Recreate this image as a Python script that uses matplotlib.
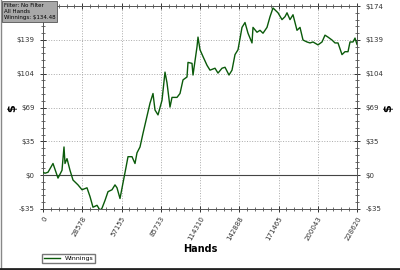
import matplotlib
matplotlib.use("Agg")
import matplotlib.pyplot as plt
from matplotlib.ticker import AutoMinorLocator, FixedLocator
from matplotlib.lines import Line2D

hands = [0, 1456, 3640, 7281, 10921, 13834, 15290, 16018, 17474, 19659, 21843, 25484,
         28396, 32036, 34221, 36405, 39317, 41502, 42958, 45142, 47327, 50239, 52423,
         53880, 56064, 58248, 60432, 61889, 64801, 66985, 68441, 70626, 72810, 77906,
         80091, 81547, 83731, 86644, 88828, 90284, 92469, 93925, 97565, 99750, 101934,
         104846, 105574, 108487, 109215, 112127, 112856, 114310, 116496, 119408, 121593,
         125233, 127417, 130330, 132514, 135427, 137611, 139795, 141980, 144892, 147076,
         149261, 152173, 152901, 155814, 157998, 160182, 163095, 165279, 167464, 168920,
         171104, 174017, 176201, 177657, 179842, 182026, 184938, 187123, 189307, 192220,
         194404, 196588, 200229, 203141, 205325, 207510, 210422, 212606, 214791, 217703,
         219887, 222072, 223528, 225712, 227169, 228620]
winnings = [3, 2, 3, 12, -3, 5, 29, 12, 17, 5, -5, -10,
            -15, -13, -22, -33, -31, -36, -34, -26, -17, -15, -10,
            -13, -24, -8, 8, 19, 19, 12, 23, 29, 43, 74,
            84, 67, 62, 77, 106, 95, 70, 80, 80, 84, 98,
            101, 116, 115, 103, 132, 142, 129, 122, 113, 108,
            110, 105, 110, 111, 103, 108, 124, 129, 152, 157,
            146, 136, 152, 147, 149, 146, 152, 163, 172, 170,
            167, 160, 163, 167, 160, 165, 149, 152, 139, 137,
            136, 137, 134, 137, 144, 142, 139, 136, 136, 124,
            127, 127, 137, 137, 141, 134.48]

xticks = [0, 28578, 57155, 85733, 114310, 142888, 171465, 200043, 228620]
xtick_labels = ["0", "28578", "57155", "85733", "114310", "142888", "171465", "200043", "228620"]
yticks = [-34.8, 0, 34.8, 69.6, 104.4, 139.2, 174.0]
ytick_labels = ["-$35", "$0", "$35", "$69", "$104", "$139", "$174"]

fig = plt.figure(figsize=(4, 2.7), dpi=100)
ax = fig.add_axes([43/400, 1 - 209/270, (357-43)/400, (209-6)/270])

ax.plot(hands, winnings, color="#0a5a0a", lw=1.0, label="Winnings", zorder=3)
ax.axhline(0, color="#444444", lw=0.8, zorder=2)

ax.set_xlim(0, 228620)
ax.set_ylim(-34.8, 174.0)
ax.xaxis.set_major_locator(FixedLocator(xticks))
ax.set_xticklabels(xtick_labels, rotation=60, ha="right", rotation_mode="anchor")
ax.yaxis.set_major_locator(FixedLocator(yticks))
ax.set_yticklabels(ytick_labels)
ax.xaxis.set_minor_locator(AutoMinorLocator(5))
ax.yaxis.set_minor_locator(AutoMinorLocator(5))
ax.tick_params(axis="both", which="both", direction="inout", top=True, right=True,
               labelright=True, labelsize=5, colors="#333333")
ax.tick_params(axis="both", which="major", length=5, width=0.7)
ax.tick_params(axis="both", which="minor", length=3, width=0.5)
ax.tick_params(axis="x", pad=2)
ax.grid(True, which="major", linestyle=":", color="#aaaaaa", lw=0.7)
for s in ax.spines.values():
    s.set_color("#555555")
    s.set_linewidth(0.7)
# left "$174" label is hidden behind the filter box in the reference
ax.yaxis.get_major_ticks()[-1].label1.set_visible(False)

ax.set_xlabel("Hands", fontsize=7, fontweight="bold", labelpad=2)
fig.text(12/400, 1 - 108/270, "$", fontsize=8, fontweight="bold", rotation=90,
         ha="center", va="center")
fig.text(388/400, 1 - 108/270, "$", fontsize=8, fontweight="bold", rotation=90,
         ha="center", va="center")

fig.text(4/400, 1 - 3/270, "Filter: No Filter\nAll Hands\nWinnings: $134.48",
         fontsize=4.0, va="top", ha="left", linespacing=1.3, zorder=5,
         bbox=dict(boxstyle="square,pad=0.3", facecolor="#a8a8a8", edgecolor="#555555", lw=0.6))

leg_handle = Line2D([], [], color="#0a5a0a", lw=1.0)
fig.legend([leg_handle], ["Winnings"], loc="lower left",
           bbox_to_anchor=(42/400, 1 - 263/270), fontsize=4.5, frameon=True,
           fancybox=False, edgecolor="#555555", handlelength=2.5, borderpad=0.3,
           borderaxespad=0)

# figure border
fig.add_artist(Line2D([0.002, 0.002], [0, 1], transform=fig.transFigure, color="#888888", lw=1))
fig.add_artist(Line2D([0, 1], [0.004, 0.004], transform=fig.transFigure, color="#222222", lw=2))

fig.savefig("out.png", dpi=100)
